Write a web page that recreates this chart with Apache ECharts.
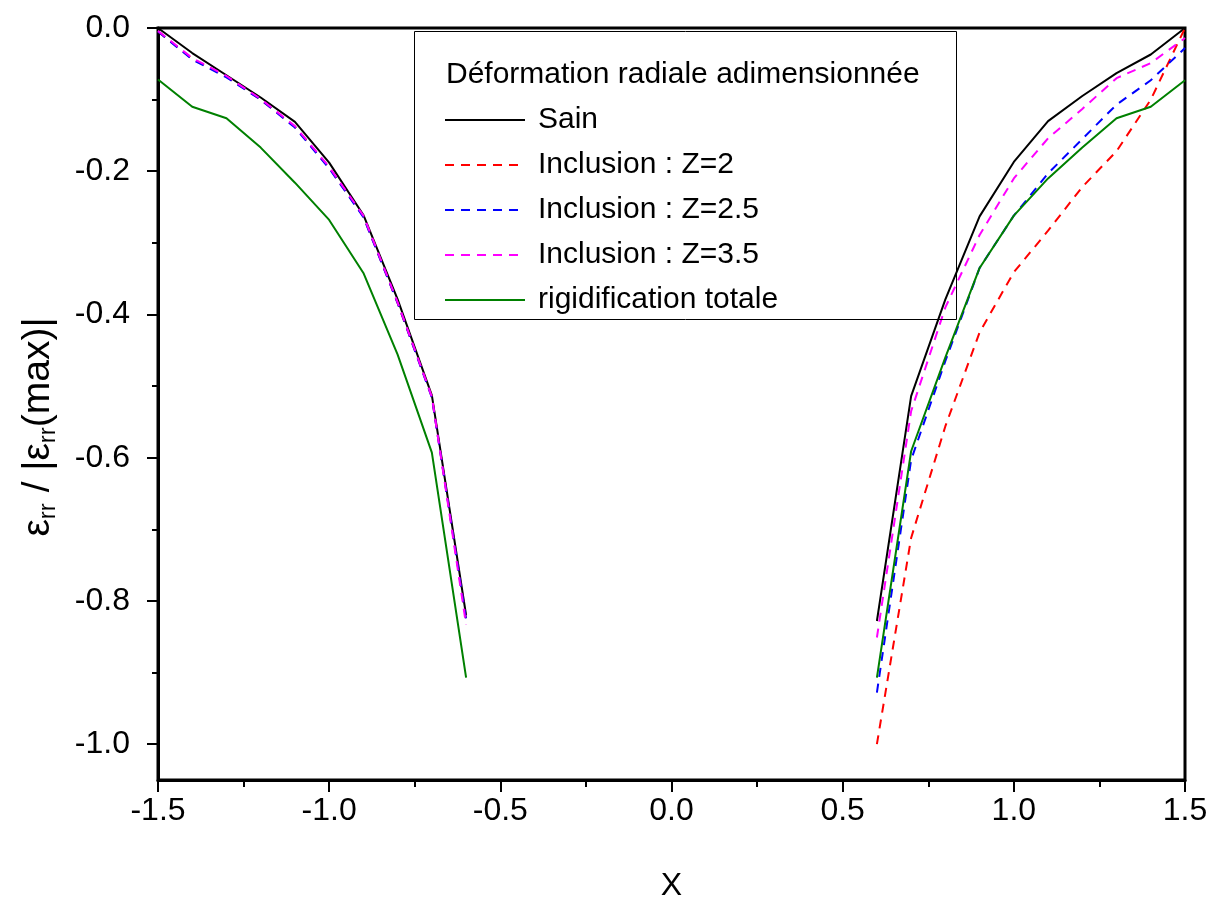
<!DOCTYPE html>
<html>
<head>
<meta charset="utf-8">
<script src="https://cdn.jsdelivr.net/npm/echarts@6/dist/echarts.min.js"></script>
<style>
html,body{margin:0;padding:0;background:#fff;}
#c{width:1210px;height:899px;}
</style>
</head>
<body>
<div id="c"></div>
<script>
// x positions of the two branches
const xLeft  = [-1.5, -1.4, -1.3, -1.2, -1.1, -1.0, -0.9, -0.8, -0.7, -0.6];
const xRight = [0.6, 0.7, 0.8, 0.9, 1.0, 1.1, 1.2, 1.3, 1.4, 1.5];

// series values (left branch, right branch)
const sainL   = [0, -0.035, -0.066, -0.097, -0.131, -0.188, -0.261, -0.379, -0.513, -0.820];
const sainR   = [-0.828, -0.514, -0.379, -0.263, -0.187, -0.130, -0.095, -0.063, -0.037, 0];
const z2L     = [-0.005, -0.043, -0.068, -0.100, -0.138, -0.195, -0.263, -0.384, -0.515, -0.826];
const z2R     = [-1.000, -0.712, -0.556, -0.425, -0.341, -0.283, -0.222, -0.172, -0.100, 0];
const z25L    = [-0.005, -0.044, -0.069, -0.100, -0.139, -0.196, -0.264, -0.384, -0.516, -0.826];
const z25R    = [-0.928, -0.603, -0.465, -0.335, -0.262, -0.203, -0.155, -0.107, -0.073, -0.028];
const z35L    = [-0.004, -0.042, -0.067, -0.099, -0.137, -0.194, -0.262, -0.383, -0.515, -0.833];
const z35R    = [-0.851, -0.535, -0.390, -0.289, -0.210, -0.154, -0.113, -0.070, -0.049, -0.014];
const rigL    = [-0.072, -0.110, -0.126, -0.167, -0.216, -0.268, -0.342, -0.456, -0.593, -0.907];
const rigR    = [-0.907, -0.591, -0.460, -0.335, -0.262, -0.210, -0.167, -0.126, -0.110, -0.073];

const seriesNames = ['Sain', 'Inclusion : Z=2', 'Inclusion : Z=2.5', 'Inclusion : Z=3.5', 'rigidification totale'];
const yMajorTicks = [-1.0, -0.8, -0.6, -0.4, -0.2, 0.0];
const yMinorTicks = [-0.9, -0.7, -0.5, -0.3, -0.1];
const legendTitle = 'Déformation radiale adimensionnée';

function build(L, R) {
  const d = xLeft.map((x, i) => [x, L[i]]);
  d.push([0, '-']);
  return d.concat(xRight.map((x, i) => [x, R[i]]));
}

const FONT = "'Liberation Sans', Arial, sans-serif";
const chart = echarts.init(document.getElementById('c'), null, {renderer: 'canvas'});

function lineSeries(name, L, R, color, dashed) {
  return {
    name: name, type: 'line', data: build(L, R),
    symbol: 'none', showSymbol: false, connectNulls: false,
    xAxisIndex: 0, yAxisIndex: 0,
    lineStyle: {color: color, width: 2, type: dashed ? [9, 7] : 'solid'},
    itemStyle: {color: color},
    emphasis: {disabled: true}
  };
}

chart.setOption({
  animation: false,
  backgroundColor: '#fff',
  textStyle: {fontFamily: FONT},
  grid: {left: 158, top: 28, right: 25, bottom: 119, show: true, borderColor: '#000', borderWidth: 3,
    backgroundColor: 'transparent', containLabel: false, outerBoundsMode: 'none'},
  title: {text: legendTitle, left: 446, top: 60, padding: 0,
    textStyle: {fontFamily: FONT, fontSize: 30, fontWeight: 'normal', color: '#000', lineHeight: 30}},
  graphic: [{type: 'rect', shape: {x: 414.5, y: 31.5, width: 542, height: 288},
    style: {fill: 'transparent', stroke: '#000', lineWidth: 1}, silent: true, z: 10}],
  legend: {
    orient: 'vertical', left: 444, top: 105, padding: 0,
    itemWidth: 80, itemHeight: 14, itemGap: 15,
    data: seriesNames,
    itemStyle: {opacity: 0},
    textStyle: {fontFamily: FONT, fontSize: 30, color: '#000', lineHeight: 30, padding: [0, 0, 0, 8]},
    selectedMode: false
  },
  xAxis: [{
    type: 'value', min: -1.5, max: 1.5, interval: 0.5,
    name: 'X', nameLocation: 'middle', nameGap: 90,
    nameTextStyle: {fontFamily: FONT, fontSize: 32, color: '#000'},
    axisLine: {show: true, onZero: false, lineStyle: {color: '#000', width: 3}},
    axisTick: {show: true, inside: false, length: 12, lineStyle: {color: '#000', width: 2}},
    minorTick: {show: true, splitNumber: 2, length: 7, lineStyle: {color: '#000', width: 2}},
    axisLabel: {fontFamily: FONT, fontSize: 32, color: '#000', margin: 15, formatter: v => v.toFixed(1)},
    splitLine: {show: false}, minorSplitLine: {show: false}
  }],
  yAxis: [{
    type: 'value', min: -1.05, max: 0,
    name: '{e|ε}{s|rr}{e| / |ε}{s|rr}{e|(max)|}', nameLocation: 'middle', nameGap: 98, nameRotate: 90,
    nameTextStyle: {fontFamily: FONT, color: '#000', padding: [0, 46, 0, 0], rich: {
      e: {fontFamily: FONT, fontSize: 39, color: '#000'},
      s: {fontFamily: FONT, fontSize: 24, color: '#000', padding: [19, 0, 0, 0]}
    }},
    axisLine: {show: true, onZero: false, lineStyle: {color: '#000', width: 3}},
    axisTick: {show: true, inside: false, length: 11, customValues: yMajorTicks, lineStyle: {color: '#000', width: 2}},
    axisLabel: {fontFamily: FONT, fontSize: 32, color: '#000', margin: 28, customValues: yMajorTicks, formatter: v => v.toFixed(1)},
    splitLine: {show: false}
  }, {
    type: 'value', min: -1.05, max: 0, position: 'left', offset: 0,
    axisLine: {show: false, onZero: false},
    axisTick: {show: true, inside: false, length: 6, customValues: yMinorTicks, lineStyle: {color: '#000', width: 2}},
    axisLabel: {show: false, customValues: yMinorTicks},
    splitLine: {show: false}
  }],
  series: [
    lineSeries(seriesNames[0], sainL, sainR, '#000000', false),
    lineSeries(seriesNames[1], z2L, z2R, '#ff0000', true),
    lineSeries(seriesNames[2], z25L, z25R, '#0000ff', true),
    lineSeries(seriesNames[3], z35L, z35R, '#ff00ff', true),
    lineSeries(seriesNames[4], rigL, rigR, '#008000', false)
  ]
});
</script>
</body>
</html>
